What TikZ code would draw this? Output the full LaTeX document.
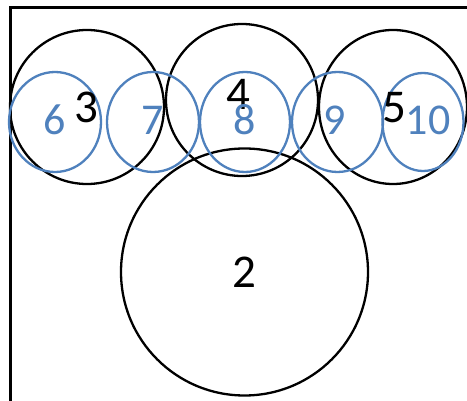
\documentclass[tikz,border=0pt]{standalone}
\usepackage{fontspec}
\setmainfont{Carlito}
\definecolor{offblue}{RGB}{79,129,189}
\tikzset{
  frame/.style={draw=black, line width=3pt},
  bigc/.style={draw=black, line width=2.3pt},
  smallc/.style={draw=offblue, line width=2.3pt},
  blacklbl/.style={anchor=base, inner sep=0pt, text=black, font=\fontsize{47}{47}\selectfont},
  bluelbl/.style={anchor=base, inner sep=0pt, text=offblue, font=\fontsize{44}{44}\selectfont},
}
\begin{document}
\begin{tikzpicture}[x=1pt,y=-1pt]
\useasboundingbox (0,0) rectangle (467,401);
\clip (0,0) rectangle (467,401);
\fill[white] (0,0) rectangle (467,401);
\draw[frame] (10,8) rectangle (490,420);
% black circles
\draw[bigc] (87,107) circle (77);
\draw[bigc] (242,100) circle (76);
\draw[bigc] (393,107) ellipse (74 and 77);
\draw[bigc] (244.5,272) circle (123.5);
% blue circles
\draw[smallc] (55,122) ellipse (46 and 50);
\draw[smallc] (153,122) ellipse (46 and 50);
\draw[smallc] (245,122) ellipse (45 and 50);
\draw[smallc] (337.5,122) ellipse (45.5 and 50);
\draw[smallc] (423,122) ellipse (40.5 and 49);
% labels
\node[blacklbl] (l3) at (86,123) {3};
\node[blacklbl] (l4) at (238,110) {4};
\node[blacklbl] (l5) at (394,123) {5};
\node[blacklbl] (l2) at (244,288) {2};
\node[bluelbl] (l6) at (55,135) {6};
\node[bluelbl] (l7) at (153,135) {7};
\node[bluelbl] (l8) at (245,135) {8};
\node[bluelbl] (l9) at (335,135) {9};
\node[bluelbl] (l10) at (428,135) {10};
\end{tikzpicture}
\end{document}
